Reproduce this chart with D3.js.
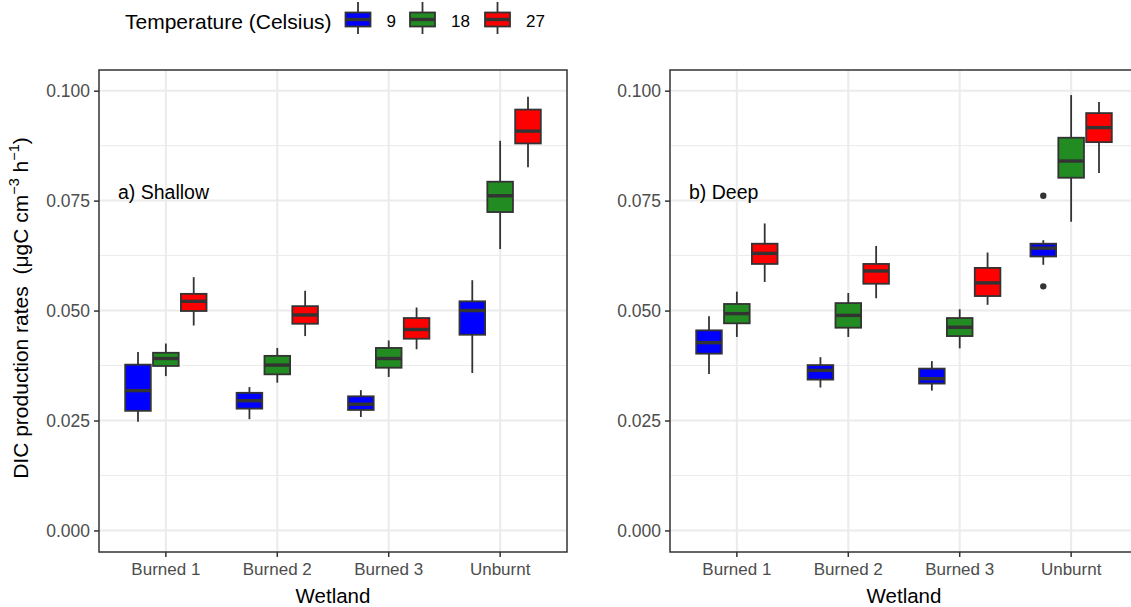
<!DOCTYPE html>
<html>
<head>
<meta charset="utf-8">
<script src="https://cdn.jsdelivr.net/npm/d3@7"></script>
<style>
  html, body { margin: 0; padding: 0; background: #fff; }
  svg { display: block; font-family: "Liberation Sans", Arial, sans-serif; }
</style>
</head>
<body>
<svg id="chart" width="1131" height="607"></svg>
<script>
// Categories and groups
const wetlands = ["Burned 1", "Burned 2", "Burned 3", "Unburnt"];
const temperatures = ["9", "18", "27"];
const tempColors = ["#0000FF", "#228B22", "#FF0000"];
const yTicks = [0, 0.025, 0.05, 0.075, 0.1];
const yMinorTicks = [0.0125, 0.0375, 0.0625, 0.0875];
const panelLabels = ["a) Shallow", "b) Deep"];

// Box summaries per wetland: [lower whisker, Q1, median, Q3, upper whisker]
const shallow9  = [[0.0247, 0.0272, 0.0318, 0.0377, 0.0406], [0.0253, 0.0277, 0.0295, 0.0313, 0.0326], [0.0258, 0.0274, 0.0287, 0.0305, 0.0319], [0.0358, 0.0445, 0.0500, 0.0521, 0.0569]];
const shallow18 = [[0.0351, 0.0374, 0.0391, 0.0404, 0.0425], [0.0336, 0.0355, 0.0376, 0.0397, 0.0415], [0.0349, 0.0370, 0.0391, 0.0415, 0.0432], [0.0640, 0.0724, 0.0761, 0.0793, 0.0886]];
const shallow27 = [[0.0466, 0.0499, 0.0521, 0.0538, 0.0576], [0.0442, 0.0470, 0.0490, 0.0510, 0.0545], [0.0412, 0.0436, 0.0457, 0.0483, 0.0507], [0.0826, 0.0880, 0.0908, 0.0957, 0.0986]];
const deep9  = [[0.0356, 0.0402, 0.0427, 0.0455, 0.0487], [0.0325, 0.0343, 0.0364, 0.0376, 0.0394], [0.0318, 0.0334, 0.0345, 0.0368, 0.0385], [0.0604, 0.0623, 0.0642, 0.0652, 0.0660]];
const deep18 = [[0.0440, 0.0471, 0.0493, 0.0515, 0.0543], [0.0440, 0.0461, 0.0489, 0.0517, 0.0540], [0.0414, 0.0442, 0.0462, 0.0483, 0.0503], [0.0702, 0.0802, 0.0840, 0.0893, 0.0990]];
const deep27 = [[0.0565, 0.0606, 0.0630, 0.0652, 0.0698], [0.0528, 0.0561, 0.0590, 0.0606, 0.0647], [0.0513, 0.0533, 0.0563, 0.0597, 0.0632], [0.0813, 0.0883, 0.0916, 0.0949, 0.0974]];

// Outlying points
const shallowOutliers = [];
const deepOutliers = [
  { wetland: "Unburnt", temp: "9", value: 0.0761 },
  { wetland: "Unburnt", temp: "9", value: 0.0555 }
];

function toRows(seriesList) {
  const rows = [];
  seriesList.forEach((series, ti) => {
    series.forEach((s, wi) => {
      rows.push({ wetland: wetlands[wi], temp: temperatures[ti],
        lo: s[0], q1: s[1], med: s[2], q3: s[3], hi: s[4] });
    });
  });
  return rows;
}

const panels = [
  { left: 99, label: panelLabels[0], rows: toRows([shallow9, shallow18, shallow27]), outliers: shallowOutliers },
  { left: 670, label: panelLabels[1], rows: toRows([deep9, deep18, deep27]), outliers: deepOutliers }
];

const panelW = 468, panelTop = 70, panelBottom = 552;
const ink = "#333333";
const gridCol = "#EBEBEB";
const tickTextCol = "#4D4D4D";
const lineW = 1.8;

const svg = d3.select("#chart");
const y = d3.scaleLinear().domain([-0.0049, 0.1047]).range([panelBottom, panelTop]);
const color = d3.scaleOrdinal().domain(temperatures).range(tempColors);

panels.forEach(p => {
  const x = d3.scaleBand().domain(wetlands).range([p.left, p.left + panelW])
    .paddingInner(0).paddingOuter(0.1);
  const step = x.step();
  const xSub = d3.scaleBand().domain(temperatures)
    .range([-0.375 * step, 0.375 * step]).paddingInner(0.08).paddingOuter(0.04);
  const cx = w => x(w) + x.bandwidth() / 2;

  const g = svg.append("g");

  // grid
  g.selectAll(".ymin").data(yMinorTicks).join("line")
    .attr("x1", p.left).attr("x2", p.left + panelW)
    .attr("y1", d => y(d)).attr("y2", d => y(d))
    .attr("stroke", gridCol).attr("stroke-width", 1);
  g.selectAll(".ymaj").data(yTicks).join("line")
    .attr("x1", p.left).attr("x2", p.left + panelW)
    .attr("y1", d => y(d)).attr("y2", d => y(d))
    .attr("stroke", gridCol).attr("stroke-width", 2);
  g.selectAll(".xmaj").data(wetlands).join("line")
    .attr("x1", d => cx(d)).attr("x2", d => cx(d))
    .attr("y1", panelTop).attr("y2", panelBottom)
    .attr("stroke", gridCol).attr("stroke-width", 2);

  // boxes
  const boxes = g.selectAll(".box").data(p.rows).join("g")
    .attr("transform", d => `translate(${cx(d.wetland)},0)`);
  const bw = xSub.bandwidth();
  boxes.append("line")
    .attr("x1", d => xSub(d.temp) + bw / 2).attr("x2", d => xSub(d.temp) + bw / 2)
    .attr("y1", d => y(d.hi)).attr("y2", d => y(d.q3))
    .attr("stroke", ink).attr("stroke-width", lineW);
  boxes.append("line")
    .attr("x1", d => xSub(d.temp) + bw / 2).attr("x2", d => xSub(d.temp) + bw / 2)
    .attr("y1", d => y(d.q1)).attr("y2", d => y(d.lo))
    .attr("stroke", ink).attr("stroke-width", lineW);
  boxes.append("rect")
    .attr("x", d => xSub(d.temp)).attr("width", bw)
    .attr("y", d => y(d.q3)).attr("height", d => y(d.q1) - y(d.q3))
    .attr("fill", d => color(d.temp)).attr("stroke", ink).attr("stroke-width", lineW);
  boxes.append("line")
    .attr("x1", d => xSub(d.temp)).attr("x2", d => xSub(d.temp) + bw)
    .attr("y1", d => y(d.med)).attr("y2", d => y(d.med))
    .attr("stroke", ink).attr("stroke-width", 3.4);

  // outliers
  g.selectAll(".out").data(p.outliers).join("circle")
    .attr("cx", d => cx(d.wetland) + xSub(d.temp) + bw / 2)
    .attr("cy", d => y(d.value)).attr("r", 3.2).attr("fill", ink);

  // panel border
  g.append("rect").attr("x", p.left).attr("y", panelTop)
    .attr("width", panelW).attr("height", panelBottom - panelTop)
    .attr("fill", "none").attr("stroke", ink).attr("stroke-width", 1.5);

  // axes
  const yAxis = d3.axisLeft(y).tickValues(yTicks).tickFormat(d3.format(".3f"))
    .tickSize(5).tickPadding(4);
  const ya = g.append("g").attr("transform", `translate(${p.left},0)`).call(yAxis);
  ya.select(".domain").remove();
  ya.selectAll(".tick line").attr("stroke", ink).attr("stroke-width", 1.5);
  ya.selectAll(".tick text").attr("fill", tickTextCol)
    .style("font-size", "17.5px").style("font-family", "'Liberation Sans', Arial, sans-serif");

  const xAxis = d3.axisBottom(x).tickSize(5).tickPadding(6);
  const xa = g.append("g").attr("transform", `translate(0,${panelBottom})`).call(xAxis);
  xa.select(".domain").remove();
  xa.selectAll(".tick line").attr("stroke", ink).attr("stroke-width", 1.5);
  xa.selectAll(".tick text").attr("fill", tickTextCol)
    .style("font-size", "17px").style("font-family", "'Liberation Sans', Arial, sans-serif");

  // x title
  g.append("text").attr("x", p.left + panelW / 2).attr("y", 603)
    .attr("text-anchor", "middle").attr("fill", "#000")
    .style("font-size", "20.5px").text("Wetland");

  // panel label
  g.append("text").attr("x", p.left + 19).attr("y", 198.5)
    .attr("fill", "#000").style("font-size", "19.5px").text(p.label);
});

// y title with superscripts
const yt = svg.append("text")
  .attr("transform", "translate(28,308) rotate(-90)")
  .attr("text-anchor", "middle").attr("fill", "#000").style("font-size", "21px")
  .attr("xml:space", "preserve").style("white-space", "pre");
yt.append("tspan").text("DIC production rates  (\u03BCgC cm");
yt.append("tspan").attr("dy", -9).style("font-size", "14.5px").text("\u22123");
yt.append("tspan").attr("dy", 9).text(" h");
yt.append("tspan").attr("dy", -9).style("font-size", "14.5px").text("\u22121");
yt.append("tspan").attr("dy", 9).text(")");

// legend
const leg = svg.append("g");
leg.append("text").attr("x", 125).attr("y", 29).attr("fill", "#000")
  .style("font-size", "21px").text("Temperature (Celsius)");
const keyX = [345.5, 410, 485];
temperatures.forEach((t, i) => {
  const kx = keyX[i];
  const k = leg.append("g");
  k.append("line").attr("x1", kx + 12.5).attr("x2", kx + 12.5).attr("y1", 2).attr("y2", 34)
    .attr("stroke", ink).attr("stroke-width", lineW);
  k.append("rect").attr("x", kx).attr("y", 12.5).attr("width", 25).attr("height", 14)
    .attr("fill", color(t)).attr("stroke", ink).attr("stroke-width", lineW);
  k.append("line").attr("x1", kx).attr("x2", kx + 25).attr("y1", 19.5).attr("y2", 19.5)
    .attr("stroke", ink).attr("stroke-width", 3.4);
  k.append("text").attr("x", kx + 41).attr("y", 27).attr("fill", "#000")
    .style("font-size", "17px").text(t);
});
</script>
</body>
</html>
